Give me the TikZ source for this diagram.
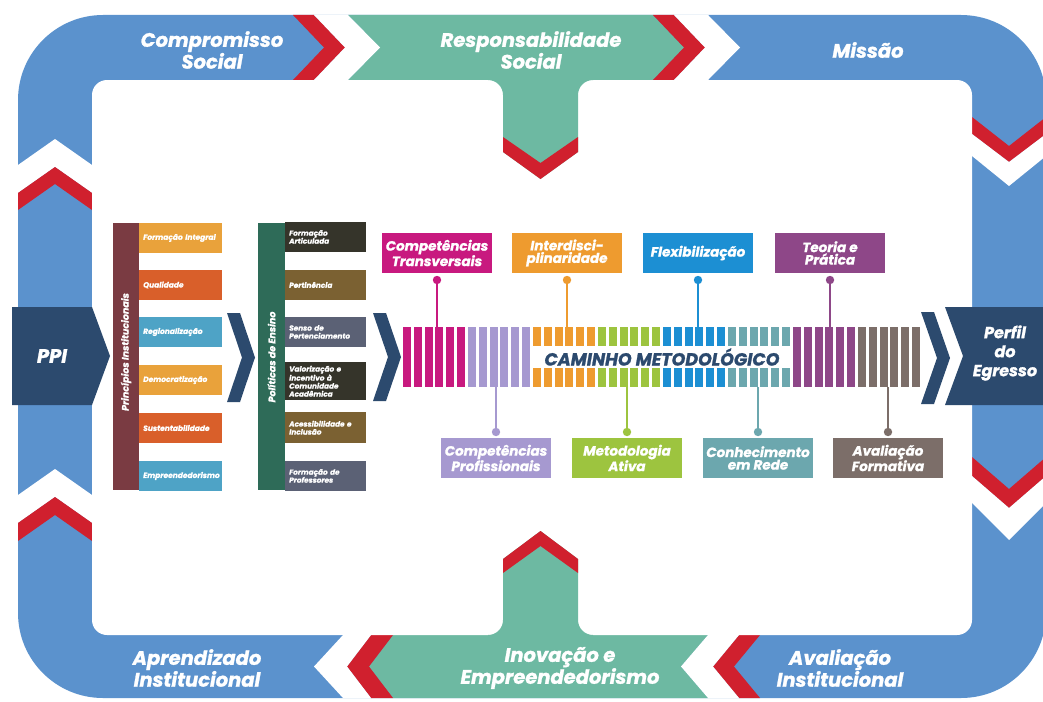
\documentclass[tikz,border=0pt]{standalone}
\usepackage{fontspec}
\setmainfont{Poppins}[BoldItalicFeatures={FakeBold=1.3}]
\newcommand\fbi{\bfseries\itshape}
\definecolor{cBand}{HTML}{5B92CD}
\definecolor{cTeal}{HTML}{6DB9A2}
\definecolor{cRed}{HTML}{D0202E}
\definecolor{cNavy}{HTML}{2C4A6E}
\definecolor{cMaroon}{HTML}{7A3B42}
\definecolor{cGreenBar}{HTML}{2E6B58}
\definecolor{cOrange}{HTML}{E9A23B}
\definecolor{cRedOr}{HTML}{D95F2A}
\definecolor{cLBlue}{HTML}{4EA3C6}
\definecolor{cOlive}{HTML}{35342A}
\definecolor{cBrown}{HTML}{7B6132}
\definecolor{cSlate}{HTML}{5B6175}
\definecolor{cMag}{HTML}{C8197F}
\definecolor{cLav}{HTML}{A699D0}
\definecolor{cOra}{HTML}{EE9B2F}
\definecolor{cLim}{HTML}{9DC43F}
\definecolor{cBlu}{HTML}{1C8FD3}
\definecolor{cTea}{HTML}{6CA7AE}
\definecolor{cPur}{HTML}{8E4788}
\definecolor{cBro}{HTML}{7C6E69}
\tikzset{
  bandtxt/.style={text=white, align=center, font=\fbi\fontsize{19.5}{20}\selectfont, inner sep=0pt},
  pintxt/.style={text=white, align=center, font=\fbi\fontsize{13.5}{12.5}\selectfont, minimum width=110pt, minimum height=40pt, inner sep=0pt},
  pbox/.style={text=white, align=left, font=\fbi\fontsize{7.5}{8}\selectfont, anchor=north west, minimum height=29.5pt, text width=75pt, inner xsep=4pt, inner ysep=0pt},
  qbox/.style={text=white, align=left, font=\fbi\fontsize{7.3}{8}\selectfont, anchor=north west, minimum height=29.5pt, text width=73pt, inner xsep=4pt, inner ysep=0pt},
  vtxt/.style={rotate=90, text=white, font=\fbi\fontsize{9.5}{10}\selectfont, inner sep=0pt},
  pinline/.style={line width=1.6pt},
}
\begin{document}
\begin{tikzpicture}[x=1pt,y=-1pt]
\useasboundingbox (0,0) rectangle (1043,701);
\clip (0,0) rectangle (1043,701);
% ring
\fill[cBand, rounded corners=85pt] (18,15) rectangle (1046,698);
\fill[cTeal] (348,15) -- (653,15) -- (684,47.5) -- (653,80) -- (348,80) -- (380,47.5) -- cycle;
\fill[cTeal] (708,635) -- (681,666.5) -- (708,698) -- (393,698) -- (369,666.5) -- (393,635) -- cycle;
% top chevrons
\fill[cRed] (293,15) -- (324,47.5) -- (293,80) -- (314,80) -- (345,47.5) -- (314,15) -- cycle;
\fill[white] (314,15) -- (345,47.5) -- (314,80) -- (348,80) -- (380,47.5) -- (348,15) -- cycle;
\fill[cRed] (653,15) -- (684,47.5) -- (653,80) -- (674,80) -- (705,47.5) -- (674,15) -- cycle;
\fill[white] (674,15) -- (705,47.5) -- (674,80) -- (708,80) -- (740,47.5) -- (708,15) -- cycle;
% right chevrons
\fill[cRed] (972,117) -- (1009,146) -- (1046,117) -- (1046,134) -- (1009,162) -- (972,134) -- cycle;
\fill[white] (972,134) -- (1009,162) -- (1046,134) -- (1046,156) -- (1009,186) -- (972,156) -- cycle;
\fill[cRed] (972,457) -- (1009,489) -- (1046,457) -- (1046,476) -- (1009,508) -- (972,476) -- cycle;
\fill[white] (972,476) -- (1009,508) -- (1046,476) -- (1046,503) -- (1009,540) -- (972,503) -- cycle;
% bottom chevrons
\fill[cRed] (760,635) -- (734,666.5) -- (760,698) -- (739,698) -- (713,666.5) -- (739,635) -- cycle;
\fill[white] (739,635) -- (713,666.5) -- (739,698) -- (708,698) -- (681,666.5) -- (708,635) -- cycle;
\fill[cRed] (393,635) -- (369,666.5) -- (393,698) -- (371,698) -- (347,666.5) -- (371,635) -- cycle;
\fill[white] (371,635) -- (347,666.5) -- (371,698) -- (343,698) -- (314,666.5) -- (343,635) -- cycle;
% left chevrons
\fill[white] (18,165) -- (55,139) -- (92,165) -- (92,193) -- (55,167) -- (18,193) -- cycle;
\fill[cRed] (18,193) -- (55,167) -- (92,193) -- (92,210) -- (55,184) -- (18,210) -- cycle;
\fill[white] (18,495) -- (55,469) -- (92,495) -- (92,523) -- (55,497) -- (18,523) -- cycle;
\fill[cRed] (18,523) -- (55,497) -- (92,523) -- (92,541) -- (55,515) -- (18,541) -- cycle;
% inner white
\fill[white, rounded corners=15pt] (92,80) rectangle (972,635);
% tongues
\fill[cTeal] (488,79) -- (593,79) -- (593,80) .. controls (584.7,80) and (578,86.7) .. (578,95) -- (578,152) -- (540.5,179) -- (503,152) -- (503,95) .. controls (503,86.7) and (496.3,80) .. (488,80) -- cycle;
\fill[cRed] (503,137) -- (540.5,163) -- (578,137) -- (578,152) -- (540.5,179) -- (503,152) -- cycle;
\fill[cTeal] (488,636) -- (593,636) -- (593,635) .. controls (584.7,635) and (578,628.3) .. (578,620) -- (578,559) -- (540.5,531) -- (503,559) -- (503,620) .. controls (503,628.3) and (496.3,635) .. (488,635) -- cycle;
\fill[cRed] (503,559) -- (540.5,531) -- (578,559) -- (578,573) -- (540.5,546) -- (503,573) -- cycle;
% band labels
\node[bandtxt] (cs) at (212,50) {Compromisso\\Social};
\node[bandtxt] (rs) at (531,50) {Responsabilidade\\Social};
\node[bandtxt] (mi) at (868,50) {Missão};
\node[bandtxt] (ai) at (197,668) {Aprendizado\\Institucional};
\node[bandtxt] (ie) at (560,668) {Inovação e\\Empreendedorismo};
\node[bandtxt] (av) at (840,668) {Avaliação\\Institucional};
% PPI and Perfil
\fill[cNavy] (12,307) -- (92,307) -- (110,356) -- (92,405) -- (12,405) -- cycle;
\node[bandtxt] (ppi) at (52,356) {PPI};
\fill[cNavy] (945,307) -- (1046,307) -- (1046,405) -- (945,405) -- (963,356) -- cycle;
\node[bandtxt, font=\fbi\fontsize{16}{19}\selectfont] (pe) at (1005,353) {Perfil\\do\\Egresso};
% navy chevrons
\fill[cNavy] (227,313) -- (240,313) -- (255,357.5) -- (240,402) -- (227,402) -- (242,357.5) -- cycle;
\fill[cNavy] (373,313) -- (386,313) -- (401,357) -- (386,401) -- (373,401) -- (388,357) -- cycle;
\fill[cNavy] (921,312) -- (934,312) -- (950,358) -- (934,404) -- (921,404) -- (937,358) -- cycle;
% Principios
\fill[cMaroon] (113,223) rectangle (139,490);
\node[vtxt] (pinst) at (126,352) {Princípios Institucionais};
\node[pbox, fill=cOrange] (p1) at (139,223) {Formação Integral};
\node[pbox, fill=cRedOr] (p2) at (139,270) {Qualidade};
\node[pbox, fill=cLBlue] (p3) at (139,317) {Regionalização};
\node[pbox, fill=cOrange] (p4) at (139,365) {Democratização};
\node[pbox, fill=cRedOr] (p5) at (139,413) {Sustentabilidade};
\node[pbox, fill=cLBlue] (p6) at (139,461) {Empreendedorismo};
% Politicas
\fill[cGreenBar] (258,223) rectangle (285,490);
\node[vtxt] (pens) at (271.5,357) {Políticas de Ensino};
\node[qbox, fill=cOlive] (q1) at (285,222) {Formação\\Articulada};
\node[qbox, fill=cBrown] (q2) at (285,270) {Pertinência};
\node[qbox, fill=cSlate] (q3) at (285,317) {Senso de\\Pertenciamento};
\node[qbox, fill=cOlive, minimum height=38pt] (q4) at (285,362) {Valorização e\\incentivo à\\Comunidade\\Acadêmica};
\node[qbox, fill=cBrown, minimum height=31pt] (q5) at (285,412) {Acessibilidade e\\Inclusão};
\node[qbox, fill=cSlate] (q6) at (285,461) {Formação de\\Professores};
% bars
\foreach \col [count=\g from 0] in {cMag,cLav,cOra,cLim,cBlu,cTea,cPur,cBro}{
  \foreach \k in {0,...,5}{
    \pgfmathsetmacro{\xa}{403+(\g*6+\k)*10.83}
    \fill[\col] (\xa,327) rectangle ++(8,60);
  }
}
\fill[white] (531,346) rectangle (791.5,368);
\node[text=cNavy, font=\fbi\fontsize{17.5}{18}\selectfont, inner sep=0pt] (cm) at (662,357) {CAMINHO METODOLÓGICO};
% pin boxes
\node[pintxt, fill=cMag] (ct) at (437,253) {Competências\\Transversais};
\node[pintxt, fill=cOra] (id) at (567,253) {Interdisci-\\plinaridade};
\node[pintxt, fill=cBlu] (fl) at (698,253) {Flexibilização};
\node[pintxt, fill=cPur] (tp) at (830,253) {Teoria e\\Prática};
\node[pintxt, fill=cLav] (cp) at (496,458) {Competências\\Profissionais};
\node[pintxt, fill=cLim] (ma) at (627,458) {Metodologia\\Ativa};
\node[pintxt, fill=cTea] (cr) at (758,458) {Conhecimento\\em Rede};
\node[pintxt, fill=cBro] (af) at (888,458) {Avaliação\\Formativa};
% pins
\foreach \n/\x/\col in {ct/437/cMag, id/567/cOra, fl/698/cBlu, tp/830/cPur}{
  \coordinate (\n dot) at (\x,280);
  \coordinate (\n bar) at (\x,327);
  \draw[pinline, \col] (\n dot) -- (\n bar);
  \fill[\col] (\n dot) circle (4.2);
}
\foreach \n/\x/\col in {cp/496/cLav, ma/627/cLim, cr/758/cTea, af/888/cBro}{
  \coordinate (\n dot) at (\x,432);
  \coordinate (\n bar) at (\x,387);
  \draw[pinline, \col] (\n dot) -- (\n bar);
  \fill[\col] (\n dot) circle (4.2);
}
\end{tikzpicture}
\end{document}
